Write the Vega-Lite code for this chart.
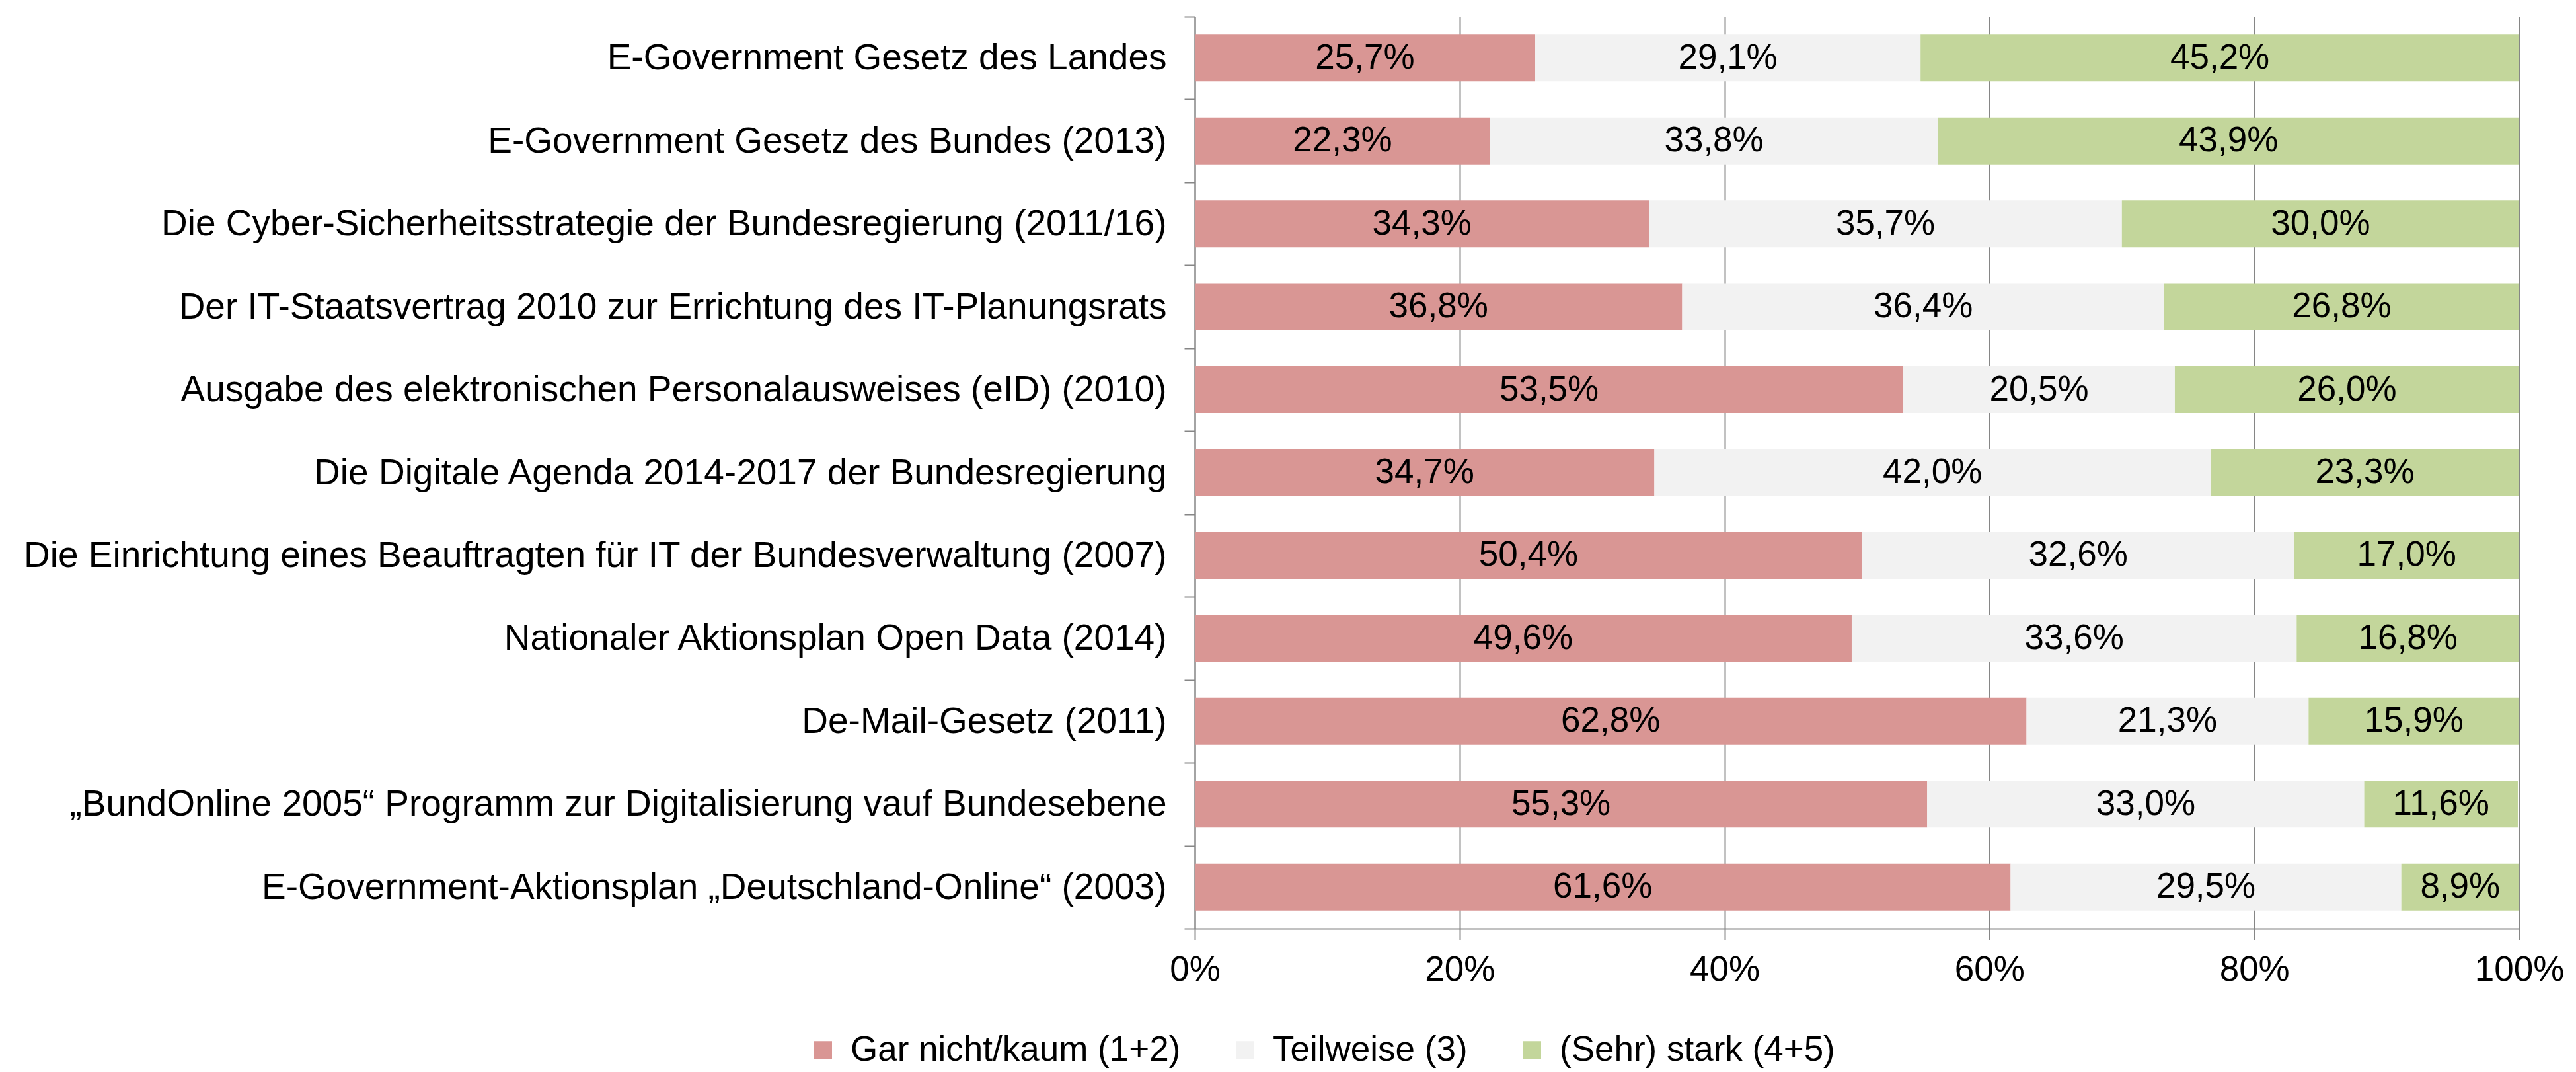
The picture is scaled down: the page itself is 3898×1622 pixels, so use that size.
{
  "$schema": "https://vega.github.io/schema/vega-lite/v6.json",
  "width": 2004,
  "height": 1380,
  "autosize": {"type": "none"},
  "padding": {"left": 1808, "top": 25, "right": 86, "bottom": 217},
  "background": "white",
  "config": {
    "locale": {"number": {"decimal": ",", "thousands": ".", "grouping": [3], "currency": ["", " €"]}},
    "font": "Liberation Sans",
    "view": {"stroke": null}
  },
  "data": {"values": [
    {"item": "E-Government Gesetz des Landes\u00a0\u00a0", "cat": "Gar nicht/kaum (1+2)", "order": 1, "value": 0.257},
    {"item": "E-Government Gesetz des Landes\u00a0\u00a0", "cat": "Teilweise (3)", "order": 2, "value": 0.291},
    {"item": "E-Government Gesetz des Landes\u00a0\u00a0", "cat": "(Sehr) stark (4+5)", "order": 3, "value": 0.452},
    {"item": "E-Government Gesetz des Bundes (2013)", "cat": "Gar nicht/kaum (1+2)", "order": 1, "value": 0.223},
    {"item": "E-Government Gesetz des Bundes (2013)", "cat": "Teilweise (3)", "order": 2, "value": 0.338},
    {"item": "E-Government Gesetz des Bundes (2013)", "cat": "(Sehr) stark (4+5)", "order": 3, "value": 0.439},
    {"item": "Die Cyber-Sicherheitsstrategie der Bundesregierung (2011/16)", "cat": "Gar nicht/kaum (1+2)", "order": 1, "value": 0.343},
    {"item": "Die Cyber-Sicherheitsstrategie der Bundesregierung (2011/16)", "cat": "Teilweise (3)", "order": 2, "value": 0.357},
    {"item": "Die Cyber-Sicherheitsstrategie der Bundesregierung (2011/16)", "cat": "(Sehr) stark (4+5)", "order": 3, "value": 0.300},
    {"item": "Der IT-Staatsvertrag 2010 zur Errichtung des IT-Planungsrats", "cat": "Gar nicht/kaum (1+2)", "order": 1, "value": 0.368},
    {"item": "Der IT-Staatsvertrag 2010 zur Errichtung des IT-Planungsrats", "cat": "Teilweise (3)", "order": 2, "value": 0.364},
    {"item": "Der IT-Staatsvertrag 2010 zur Errichtung des IT-Planungsrats", "cat": "(Sehr) stark (4+5)", "order": 3, "value": 0.268},
    {"item": "Ausgabe des elektronischen Personalausweises (eID) (2010)", "cat": "Gar nicht/kaum (1+2)", "order": 1, "value": 0.535},
    {"item": "Ausgabe des elektronischen Personalausweises (eID) (2010)", "cat": "Teilweise (3)", "order": 2, "value": 0.205},
    {"item": "Ausgabe des elektronischen Personalausweises (eID) (2010)", "cat": "(Sehr) stark (4+5)", "order": 3, "value": 0.260},
    {"item": "Die Digitale Agenda 2014-2017 der Bundesregierung", "cat": "Gar nicht/kaum (1+2)", "order": 1, "value": 0.347},
    {"item": "Die Digitale Agenda 2014-2017 der Bundesregierung", "cat": "Teilweise (3)", "order": 2, "value": 0.420},
    {"item": "Die Digitale Agenda 2014-2017 der Bundesregierung", "cat": "(Sehr) stark (4+5)", "order": 3, "value": 0.233},
    {"item": "Die Einrichtung eines Beauftragten für IT der Bundesverwaltung (2007)", "cat": "Gar nicht/kaum (1+2)", "order": 1, "value": 0.504},
    {"item": "Die Einrichtung eines Beauftragten für IT der Bundesverwaltung (2007)", "cat": "Teilweise (3)", "order": 2, "value": 0.326},
    {"item": "Die Einrichtung eines Beauftragten für IT der Bundesverwaltung (2007)", "cat": "(Sehr) stark (4+5)", "order": 3, "value": 0.170},
    {"item": "Nationaler Aktionsplan Open Data (2014)", "cat": "Gar nicht/kaum (1+2)", "order": 1, "value": 0.496},
    {"item": "Nationaler Aktionsplan Open Data (2014)", "cat": "Teilweise (3)", "order": 2, "value": 0.336},
    {"item": "Nationaler Aktionsplan Open Data (2014)", "cat": "(Sehr) stark (4+5)", "order": 3, "value": 0.168},
    {"item": "De-Mail-Gesetz (2011)", "cat": "Gar nicht/kaum (1+2)", "order": 1, "value": 0.628},
    {"item": "De-Mail-Gesetz (2011)", "cat": "Teilweise (3)", "order": 2, "value": 0.213},
    {"item": "De-Mail-Gesetz (2011)", "cat": "(Sehr) stark (4+5)", "order": 3, "value": 0.159},
    {"item": "„BundOnline 2005“ Programm zur Digitalisierung vauf Bundesebene", "cat": "Gar nicht/kaum (1+2)", "order": 1, "value": 0.553},
    {"item": "„BundOnline 2005“ Programm zur Digitalisierung vauf Bundesebene", "cat": "Teilweise (3)", "order": 2, "value": 0.330},
    {"item": "„BundOnline 2005“ Programm zur Digitalisierung vauf Bundesebene", "cat": "(Sehr) stark (4+5)", "order": 3, "value": 0.116},
    {"item": "E-Government-Aktionsplan „Deutschland-Online“ (2003)", "cat": "Gar nicht/kaum (1+2)", "order": 1, "value": 0.616},
    {"item": "E-Government-Aktionsplan „Deutschland-Online“ (2003)", "cat": "Teilweise (3)", "order": 2, "value": 0.295},
    {"item": "E-Government-Aktionsplan „Deutschland-Online“ (2003)", "cat": "(Sehr) stark (4+5)", "order": 3, "value": 0.089}
  ]},
  "layer": [
    {
      "mark": {"type": "bar", "height": {"band": 0.566}},
      "encoding": {
        "y": {
          "field": "item", "type": "nominal", "sort": null,
          "scale": {"paddingInner": 0, "paddingOuter": 0},
          "axis": {
            "title": null, "grid": false,
            "domainColor": "#868686", "domainWidth": 2,
            "ticks": true, "tickBand": "extent", "tickSize": 16, "tickColor": "#868686", "tickWidth": 2,
            "labelFontSize": 55, "labelColor": "black", "labelPadding": 27, "labelLimit": 2000,
            "labelFont": "Liberation Sans"
          }
        },
        "x": {
          "field": "value", "type": "quantitative", "stack": "zero",
          "scale": {"domain": [0, 1], "nice": false},
          "axis": {
            "title": null, "format": ".0%", "values": [0, 0.2, 0.4, 0.6, 0.8, 1],
            "grid": true, "gridColor": "#868686", "gridWidth": 2,
            "domainColor": "#868686", "domainWidth": 2,
            "tickSize": 17, "tickColor": "#868686", "tickWidth": 2,
            "labelFontSize": 53, "labelColor": "black", "labelPadding": 19,
            "labelFont": "Liberation Sans", "labelFlush": false
          }
        },
        "color": {
          "field": "cat", "type": "nominal",
          "scale": {
            "domain": ["Gar nicht/kaum (1+2)", "Teilweise (3)", "(Sehr) stark (4+5)"],
            "range": ["#D99694", "#F2F2F2", "#C3D69B"]
          },
          "legend": {
            "title": null, "orient": "none", "direction": "horizontal",
            "legendX": -589, "legendY": 1537,
            "symbolType": "square", "symbolSize": 729, "symbolStrokeWidth": 0,
            "labelFontSize": 53, "labelColor": "black", "labelFont": "Liberation Sans",
            "labelOffset": 15, "columnPadding": 71, "padding": 0, "labelLimit": 2000
          }
        },
        "order": {"field": "order", "type": "quantitative"}
      }
    },
    {
      "transform": [
        {"stack": "value", "groupby": ["item"], "sort": [{"field": "order", "order": "ascending"}], "as": ["x0", "x1"]},
        {"fold": ["x0", "x1"], "as": ["edge", "pos"]},
        {"aggregate": [{"op": "mean", "field": "pos", "as": "mid"}, {"op": "max", "field": "value", "as": "v"}], "groupby": ["item", "cat"]}
      ],
      "mark": {"type": "text", "fontSize": 53, "color": "black", "font": "Liberation Sans"},
      "encoding": {
        "y": {"field": "item", "type": "nominal", "sort": null},
        "x": {"field": "mid", "type": "quantitative"},
        "text": {"field": "v", "type": "quantitative", "format": ".1%"}
      }
    }
  ]
}
